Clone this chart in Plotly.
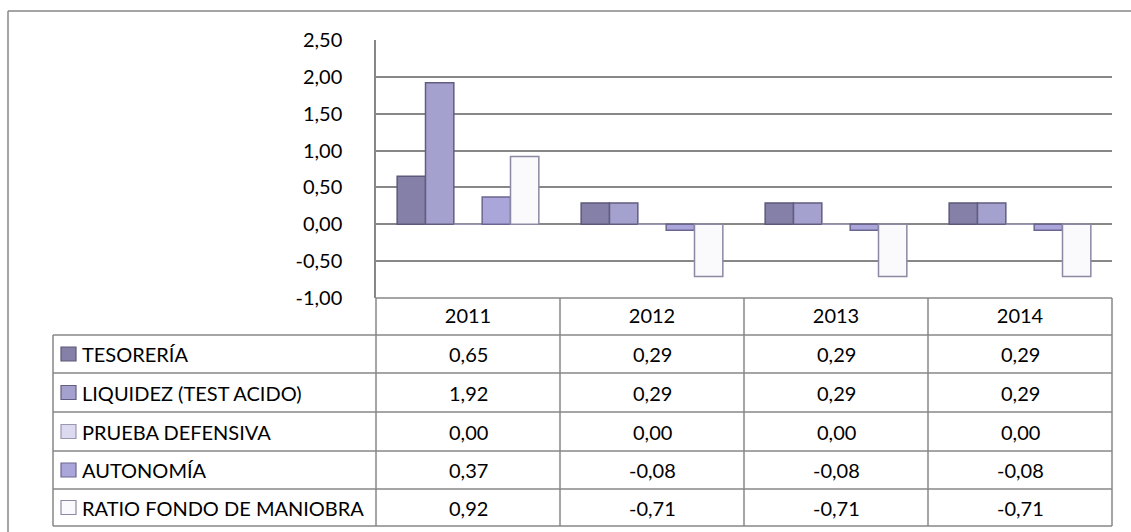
import plotly.graph_objects as go

years = ["2011", "2012", "2013", "2014"]
series_names = ["TESORERÍA", "LIQUIDEZ (TEST ACIDO)", "PRUEBA DEFENSIVA", "AUTONOMÍA", "RATIO FONDO DE MANIOBRA"]
tesoreria = [0.65, 0.29, 0.29, 0.29]
liquidez = [1.92, 0.29, 0.29, 0.29]
prueba_defensiva = [0.00, 0.00, 0.00, 0.00]
autonomia = [0.37, -0.08, -0.08, -0.08]
ratio_fondo = [0.92, -0.71, -0.71, -0.71]
series_values = [tesoreria, liquidez, prueba_defensiva, autonomia, ratio_fondo]
y_ticks = [-1.0, -0.5, 0.0, 0.5, 1.0, 1.5, 2.0, 2.5]

fills = ["#8580a8", "#a5a1ce", "#dcdaf0", "#aaa6da", "#fafafd"]
edges = ["#5c5878", "#625e80", "#9a97b3", "#6a6690", "#8c89a4"]

# plot area in pixels (matches the Excel layout)
W, H = 1131, 532
L, R, T, B = 376, 1112, 40, 298
PW, PH = R - L, B - T


def px_x(x):
    return (x - L) / PW


def px_y(y):
    return 1 - (y - T) / PH


def fmt(v):
    # excel style: comma decimals, plain hyphen for negatives
    return f"{v:.2f}".replace(".", ",")


fig = go.Figure()
for name, vals, fc, ec in zip(series_names, series_values, fills, edges):
    fig.add_trace(go.Bar(x=years, y=vals, name=name,
                         marker=dict(color=fc, line=dict(color=ec, width=1.5))))

grey = "#878787"
shapes = []
# outer chart frame (only left and top edges are inside the picture)
shapes.append(dict(type="line", xref="paper", yref="paper",
                   x0=px_x(8), x1=px_x(8), y0=px_y(11), y1=px_y(H),
                   line=dict(color=grey, width=1.5)))
shapes.append(dict(type="line", xref="paper", yref="paper",
                   x0=px_x(8), x1=px_x(W), y0=px_y(11), y1=px_y(11),
                   line=dict(color=grey, width=1.5)))

# data table grid
row_tops = [298, 335, 373, 412, 451, 489, 526]
col_x = [376, 560, 744, 928, 1112]
tbl_left = 53
for i, yy in enumerate(row_tops):
    x0 = L if i == 0 else tbl_left
    shapes.append(dict(type="line", xref="paper", yref="paper",
                       x0=px_x(x0), x1=px_x(R), y0=px_y(yy), y1=px_y(yy),
                       line=dict(color=grey, width=1.5)))
for xx in col_x:
    shapes.append(dict(type="line", xref="paper", yref="paper",
                       x0=px_x(xx), x1=px_x(xx), y0=px_y(row_tops[0]), y1=px_y(row_tops[-1]),
                       line=dict(color=grey, width=1.5)))
shapes.append(dict(type="line", xref="paper", yref="paper",
                   x0=px_x(tbl_left), x1=px_x(tbl_left), y0=px_y(row_tops[1]), y1=px_y(row_tops[-1]),
                   line=dict(color=grey, width=1.5)))

annotations = []
for r, (name, vals, fc, ec) in enumerate(zip(series_names, series_values, fills, edges)):
    top, bot = row_tops[r + 1], row_tops[r + 2]
    mid = (top + bot) / 2
    shapes.append(dict(type="rect", xref="paper", yref="paper",
                       x0=px_x(61), x1=px_x(76), y0=px_y(mid - 7), y1=px_y(mid + 7),
                       fillcolor=fc, line=dict(color=ec, width=1.2)))
    annotations.append(dict(text=name, xref="paper", yref="paper",
                            x=px_x(80), y=px_y(mid), xanchor="left", yanchor="middle",
                            showarrow=False))
    # category index positions on the x axis
    for i, v in enumerate(vals):
        annotations.append(dict(text=fmt(v), xref="x", yref="paper",
                                x=i, y=px_y(mid), xanchor="center", yanchor="middle",
                                showarrow=False))

fig.update_layout(
    width=W, height=H,
    margin=dict(l=L, r=W - R, t=T, b=H - B),
    paper_bgcolor="white", plot_bgcolor="white",
    font=dict(family="Lato", size=20, color="#000000"),
    barmode="group", bargap=0.23, bargroupgap=0,
    showlegend=False,
    shapes=shapes, annotations=annotations,
)
fig.update_yaxes(range=[-1, 2.5], tickvals=y_ticks, ticktext=[fmt(v) for v in y_ticks],
                 showgrid=True, gridcolor=grey, gridwidth=1.5,
                 zeroline=True, zerolinecolor=grey, zerolinewidth=1.5,
                 showline=True, linecolor=grey, linewidth=1.5,
                 ticks="", ticklabelstandoff=28)
fig.update_xaxes(type="category", range=[-0.5, len(years) - 0.5],
                 showgrid=False, showline=False, ticks="", ticklabelstandoff=4)

fig.write_html("out.html", config={"displayModeBar": False},
               post_script="document.body.style.margin='0';document.body.style.overflow='hidden';")
